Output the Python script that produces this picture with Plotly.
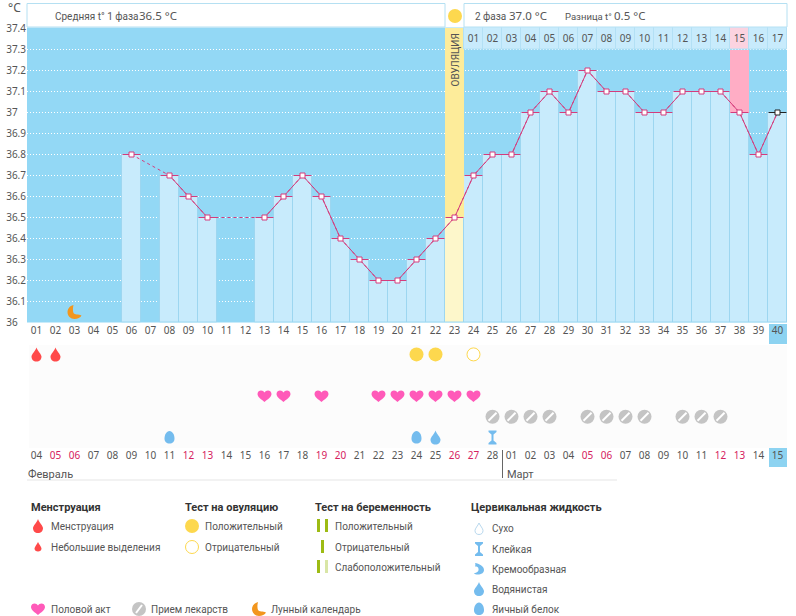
import plotly.graph_objects as go

W, H = 796, 616
days = list(range(1, 41))
cycle_labels = [f"{d:02d}" for d in days]
temps = [None, None, None, None, None, 36.8, None, 36.7, 36.6, 36.5, None, None, 36.5, 36.6, 36.7, 36.6,
         36.4, 36.3, 36.2, 36.2, 36.3, 36.4, 36.5, 36.7, 36.8, 36.8, 37.0, 37.1, 37.0, 37.2, 37.1, 37.1,
         37.0, 37.0, 37.1, 37.1, 37.1, 37.0, 36.8, 37.0]
y_ticks = [36, 36.1, 36.2, 36.3, 36.4, 36.5, 36.6, 36.7, 36.8, 36.9, 37, 37.1, 37.2, 37.3, 37.4]
y_labels = ["36", "36.1", "36.2", "36.3", "36.4", "36.5", "36.6", "36.7", "36.8", "36.9", "37", "37.1", "37.2", "37.3", "37.4"]
ovulation_day = 23
peak_day = 38
phase2_days = list(range(24, 41))
phase2_labels = [f"{d:02d}" for d in range(1, 18)]
date_labels = ["04", "05", "06", "07", "08", "09", "10", "11", "12", "13", "14", "15", "16", "17", "18", "19", "20",
               "21", "22", "23", "24", "25", "26", "27", "28", "01", "02", "03", "04", "05", "06", "07", "08", "09",
               "10", "11", "12", "13", "14", "15"]
weekend_days = [2, 3, 9, 10, 16, 17, 23, 24, 30, 31, 37, 38]
menstruation_days = [1, 2]
moon_days = [3]
ovu_pos_days = [21, 22]
ovu_neg_days = [24]
love_days = [13, 14, 16, 19, 20, 21, 22, 23, 24]
pill_days = [25, 26, 27, 28, 30, 31, 32, 33, 35, 36, 37]
egg_days = [8, 21]
watery_days = [22]
sticky_days = [25]

BLUE = "#93d8f5"; LIGHT = "#c8ebfc"; EDGE = "#9dd6f0"; TXT = "#555555"; RED = "#d6215e"
MAG = "#d43c7c"; SUN = "#fdd84e"; PINK = "#ff5ab9"; DROP = "#ff4a4a"; WATER = "#74bcee"; MOON = "#f2961e"
PILL = "#c4c4c4"; GREEN = "#9dbb14"; FONT = "Noto Sans"; TEXTFONT = "Roboto"

def px(x): return x / W
def py(y): return 1 - y / H

DROP_P = "M0 7 C1 4 5 0 5 -2 C5 -5 3 -7 0 -7 C-3 -7 -5 -5 -5 -2 C-5 0 -1 4 0 7 Z"
DRY_P = "M0 6 C1 3.5 4 0.5 4 -1.5 C4 -4 2.5 -5.5 0 -5.5 C-2.5 -5.5 -4 -4 -4 -1.5 C-4 0.5 -1 3.5 0 6 Z"
SMALL_DROP_P = "M0 5 C1 3 3.5 0 3.5 -1.5 C3.5 -3.5 2 -4.5 0 -4.5 C-2 -4.5 -3.5 -3.5 -3.5 -1.5 C-3.5 0 -1 3 0 5 Z"
HEART_P = "M0 -6 C-3 -3.5 -7 -1 -7 2 C-7 4.5 -5 5.5 -3.5 5.5 C-2 5.5 -0.7 4.7 0 3.5 C0.7 4.7 2 5.5 3.5 5.5 C5 5.5 7 4.5 7 2 C7 -1 3 -3.5 0 -6 Z"
EGG_P = "M0 6.5 C3 6.5 5 2.5 5 -1 C5 -4.5 3 -6 0 -6 C-3 -6 -5 -4.5 -5 -1 C-5 2.5 -3 6.5 0 6.5 Z"
HOUR_P = "M-4 7 L4 7 L4 5.5 L1 3 L1 -3 L4 -5.5 L4 -7 L-4 -7 L-4 -5.5 L-1 -3 L-1 3 L-4 5.5 Z"
MOON_P = "M-1 7 C-5 6 -7 3 -7 0 C-7 -4 -4 -7 0 -7 C3 -7 6 -5.5 7 -3.5 C4 -2 0 -3 -1 -1 C-2 1.5 -1.5 5 -1 7 Z"
CREAM_P = "M-4 6 C0 5.5 5 3 5 -1 C5 -4 2 -5.5 -1 -5.5 C-3 -5.5 -4.5 -5 -5 -4 C-2 -4 0 -2 -0.5 0 C-0.5 2 -2 2.5 -4 2.5 C-3.5 4 -3.5 5 -4 6 Z"

shapes = []
def icon(path, fill, xa, ya, xref="x2", yref="y2", line=None):
    shapes.append(dict(type="path", path=path, fillcolor=fill, line=dict(color=line or fill, width=1 if line else 0),
                       xref=xref, yref=yref, xsizemode="pixel", ysizemode="pixel", xanchor=xa, yanchor=ya, layer="above"))
def pxicon(path, fill, x, y, line=None):
    icon(path, fill, px(x), py(y), "paper", "paper", line)
def rect(x0, y0, x1, y1, fill, line=None, layer="below"):
    shapes.append(dict(type="rect", xref="paper", yref="paper", x0=px(x0), x1=px(x1), y0=py(y0), y1=py(y1),
                       fillcolor=fill, line=dict(color=line or fill, width=1 if line else 0), layer=layer))

# chart background, header, highlighted cells
shapes.append(dict(type="rect", xref="x", yref="y domain", x0=0.5, x1=40.5, y0=0, y1=1, fillcolor=BLUE, line_width=0, layer="below"))
rect(27, 3.5, 445, 27, "white", "#b5e0f2")
rect(464, 3.5, 787, 27, "white", "#b5e0f2")
rect(29, 345, 787, 448, "#fcfcfc")
rect(769, 324, 787, 344, "#8dd3f1")
rect(769, 448, 787, 467, "#8dd3f1")
rect(27, 479.5, 617, 480.5, "#e6e6e6")
rect(502, 450, 503, 478, "#666666")
shapes.append(dict(type="circle", xref="paper", yref="paper", x0=px(448), x1=px(462), y0=py(23), y1=py(9),
                   fillcolor=SUN, line_width=0, layer="above"))

fig = go.Figure()
bar_colors = ["#fdf7cb" if d == ovulation_day else LIGHT for d in days]
bar_vals = [None if t is None else round(t - 36, 2) for t in temps]
fig.add_bar(x=days, y=bar_vals, base=36, width=1, marker=dict(color=bar_colors, line=dict(color=EDGE, width=1)), xaxis="x", yaxis="y")
top = 36 + 295 / 210
ovu_t = temps[ovulation_day - 1]
fig.add_bar(x=[ovulation_day], y=[top - ovu_t], base=ovu_t, width=1, marker=dict(color="#fdec9a", line_width=0))
peak_t = temps[peak_day - 1]
fig.add_bar(x=[peak_day], y=[37.3 - peak_t], base=peak_t, width=1, marker=dict(color="#ffadc5", line_width=0))
strip_colors = ["#fbd3e0" if d == peak_day else "#c8ebfc" for d in phase2_days]
fig.add_bar(x=phase2_days, y=[top - 37.3] * len(phase2_days), base=37.3, width=1,
            marker=dict(color=strip_colors, line=dict(color="#b3e0f5", width=1)))
fig.add_scatter(x=phase2_days, y=[37.35] * len(phase2_days), mode="text", text=phase2_labels,
                textfont=dict(family=FONT, size=10, color=TXT))
# temperature lines
fig.add_scatter(x=days, y=temps, mode="lines", connectgaps=True, line=dict(color=MAG, width=1, dash="3px,3px"))
fig.add_scatter(x=days, y=temps, mode="lines", line=dict(color=MAG, width=1))
fig.add_scatter(x=days[:-1], y=temps[:-1], mode="markers",
                marker=dict(symbol="square", size=5, color="white", line=dict(color=MAG, width=1)),
                error_x=dict(type="constant", value=0.47, color=MAG, thickness=1, width=0))
fig.add_scatter(x=days[-1:], y=temps[-1:], mode="markers",
                marker=dict(symbol="square", size=5, color="white", line=dict(color="#222222", width=1)),
                error_x=dict(type="constant", value=0.47, color="#222222", thickness=1, width=0))
# lower panel markers
fig.add_scatter(x=ovu_pos_days, y=[1] * len(ovu_pos_days), xaxis="x2", yaxis="y2", mode="markers",
                marker=dict(size=14, color=SUN))
fig.add_scatter(x=ovu_neg_days, y=[1] * len(ovu_neg_days), xaxis="x2", yaxis="y2", mode="markers",
                marker=dict(size=13, color="white", line=dict(color=SUN, width=1)))
fig.add_scatter(x=pill_days, y=[4] * len(pill_days), xaxis="x2", yaxis="y2", mode="markers",
                marker=dict(size=14, color=PILL))
fig.add_scatter(x=pill_days, y=[4] * len(pill_days), xaxis="x2", yaxis="y2", mode="markers",
                marker=dict(symbol="line-ne", size=8, line=dict(color="white", width=2)))
# full-page overlay axes carry the free text
fig.add_scatter(x=[], y=[], xaxis="x3", yaxis="y3")

for d in menstruation_days: icon(DROP_P, DROP, d, 1)
for d in love_days: icon(HEART_P, PINK, d, 3)
for d in egg_days: icon(EGG_P, WATER, d, 5)
for d in watery_days: icon(DROP_P, WATER, d, 5)
for d in sticky_days: icon(HOUR_P, WATER, d, 5)
for d in moon_days: icon(MOON_P, MOON, d, 36.05, "x", "y")

anns = []
def text(x, y, s, size=10, color=TXT, bold=False, anchor="left", family=TEXTFONT, angle=0):
    anns.append(dict(xref="x3", yref="y3", x=x - 1, y=y, text=f"<b>{s}</b>" if bold else s, showarrow=False,
                     xanchor=anchor, yanchor="middle", textangle=angle, borderpad=0, align="left",
                     font=dict(family=family, size=size, color=color)))

text(8, 7, "°C", 12, family=FONT)
text(55, 16, "Средняя t° 1 фаза", 10)
text(139, 15, "36.5 °C", 11.5, family=FONT)
text(475, 16, "2 фаза", 10)
text(509, 15, "37.0 °C", 11.5, family=FONT)
text(565, 16, "Разница t°", 9.5)
text(614, 15, "0.5 °C", 11.5, family=FONT)
anns.append(dict(xref="x", yref="y3", x=ovulation_day, y=60, text="ОВУЛЯЦИЯ", textangle=-90, showarrow=False,
                 font=dict(family=TEXTFONT, size=10, color=TXT)))
text(28, 474, "Февраль", 11)
text(507, 474, "Март", 11)

# legend
hdr = 11
for x, s in [(31, "Менструация"), (185, "Тест на овуляцию"), (315, "Тест на беременность"), (471, "Цервикальная жидкость")]:
    text(x, 507, s, hdr, "#333333", True)
for x, y, s in [(51, 526, "Менструация"), (51, 547, "Небольшие выделения"), (205, 526, "Положительный"),
                (205, 547, "Отрицательный"), (335, 526, "Положительный"), (335, 547, "Отрицательный"),
                (335, 567, "Слабоположительный"), (492, 528, "Сухо"), (492, 549, "Клейкая"), (492, 569, "Кремообразная"),
                (492, 589, "Водянистая"), (492, 609, "Яичный белок"), (51, 609, "Половой акт"),
                (151, 609, "Прием лекарств"), (271, 609, "Лунный календарь")]:
    text(x, y, s, 10)

pxicon(DROP_P, DROP, 38, 526)
pxicon(SMALL_DROP_P, DROP, 38, 547)
shapes.append(dict(type="circle", xref="paper", yref="paper", x0=px(185), x1=px(199), y0=py(533), y1=py(519), fillcolor=SUN, line_width=0))
shapes.append(dict(type="circle", xref="paper", yref="paper", x0=px(185.5), x1=px(198.5), y0=py(553.5), y1=py(540.5), fillcolor="white", line=dict(color=SUN, width=1)))
rect(317, 519, 320, 532, GREEN, layer="above"); rect(325, 519, 328, 532, GREEN, layer="above")
rect(321, 540, 324, 553, GREEN, layer="above")
rect(317, 560, 320, 573, GREEN, layer="above"); rect(325, 560, 328, 573, "#d9e6a6", layer="above")
pxicon(DRY_P, "white", 479, 529, "#b8d8ee")
pxicon(HOUR_P, WATER, 479, 549)
pxicon(CREAM_P, WATER, 479, 569)
pxicon(DROP_P, WATER, 479, 589)
pxicon(EGG_P, WATER, 479, 609)
pxicon(HEART_P, PINK, 38, 609)
shapes.append(dict(type="circle", xref="paper", yref="paper", x0=px(132), x1=px(146), y0=py(616), y1=py(602), fillcolor=PILL, line_width=0))
shapes.append(dict(type="line", xref="paper", yref="paper", x0=px(136), x1=px(142), y0=py(613), y1=py(605), line=dict(color="white", width=2)))
pxicon(MOON_P, MOON, 259, 609)

date_text = [f'<span style="color:{RED}">{s}</span>' if d in weekend_days else s for d, s in zip(days, date_labels)]
tickfont = dict(family=FONT, size=10, color=TXT)
fig.update_layout(
    width=W, height=H, margin=dict(l=0, r=0, t=0, b=0), paper_bgcolor="white", plot_bgcolor="rgba(0,0,0,0)",
    showlegend=False, barmode="overlay", bargap=0, shapes=shapes, annotations=anns,
    xaxis=dict(domain=[px(27), px(787)], range=[0.5, 40.5], anchor="y", tickvals=days, ticktext=cycle_labels, showgrid=False,
               zeroline=False, ticks="", tickfont=tickfont, tickangle=0, automargin=False),
    yaxis=dict(domain=[py(322.5), py(27.5)], range=[36, top], anchor="x", tickvals=y_ticks,
               ticktext=[s + ("\u2008\u2007" if "." not in s else "") for s in y_labels], showgrid=True, gridcolor="white",
               griddash="1px,2px", gridwidth=1, zeroline=False, ticks="", tickfont=tickfont, automargin=False),
    xaxis2=dict(domain=[px(27), px(787)], range=[0.5, 40.5], anchor="y2", tickvals=days, ticktext=date_text, showgrid=False,
                zeroline=False, ticks="", tickfont=tickfont, tickangle=0, automargin=False),
    yaxis2=dict(domain=[py(448), py(344)], range=[5.5, 0.5], anchor="x2", visible=False, automargin=False),
    xaxis3=dict(domain=[0, 1], range=[0, W], anchor="y3", visible=False, automargin=False),
    yaxis3=dict(domain=[0, 1], range=[H, 0], anchor="x3", visible=False, automargin=False),
)
fig.write_html("out.html", config={"displayModeBar": False},
               post_script="document.body.style.margin='0';document.body.style.overflow='hidden';")
